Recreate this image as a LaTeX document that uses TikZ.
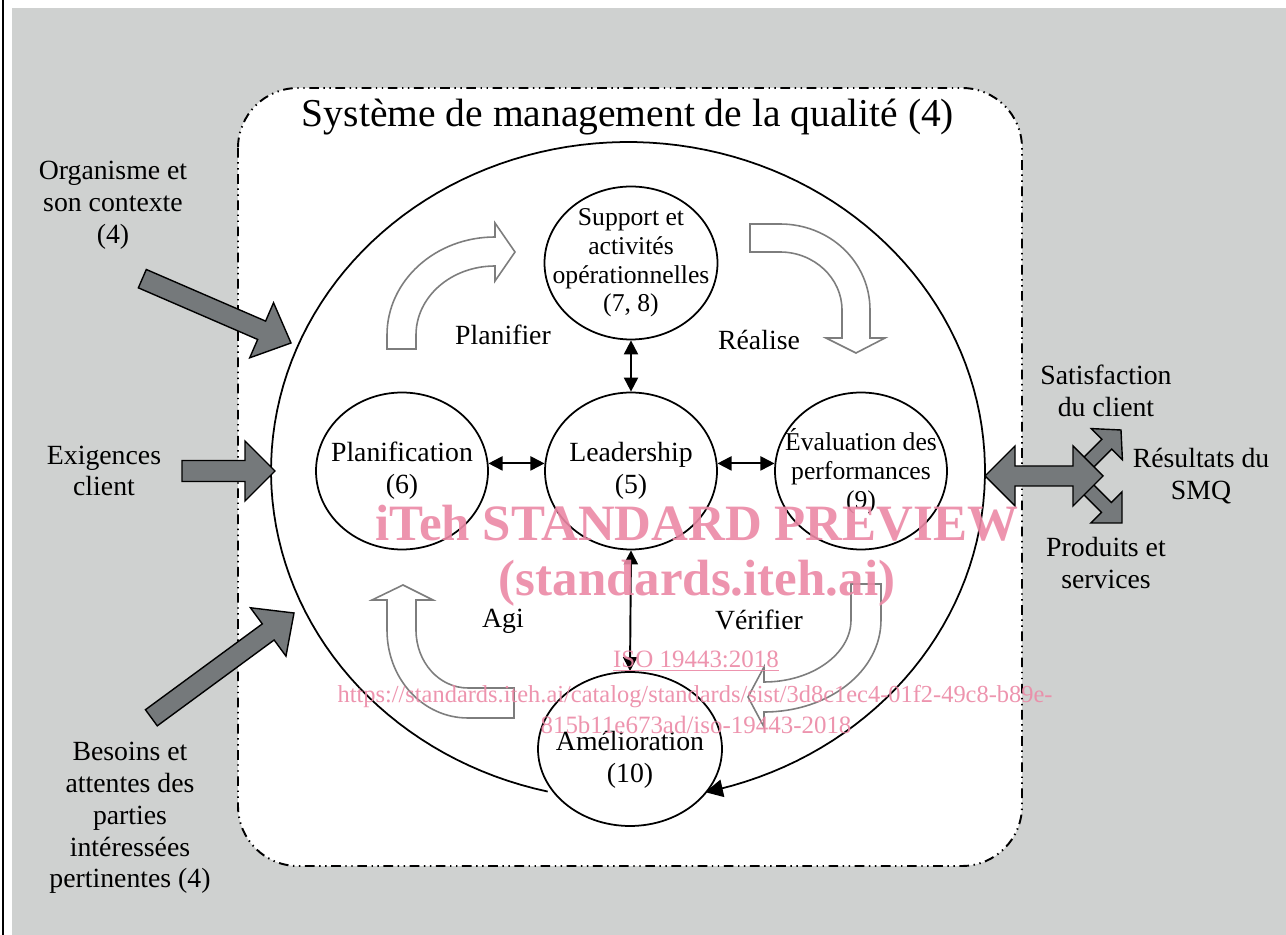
\documentclass[tikz,border=0pt]{standalone}
\usepackage{fontspec}
\setmainfont{Liberation Serif}
\usetikzlibrary{shapes.geometric,arrows.meta}

\definecolor{bggrey}{RGB}{207,209,208}
\definecolor{arrowgrey}{RGB}{117,121,123}
\definecolor{outlinegrey}{RGB}{125,125,125}
\definecolor{wmpink}{RGB}{236,137,166}

\begin{document}
\begin{tikzpicture}[
		x=0.02cm, y=-0.02cm,
		proc/.style={ellipse, draw, line width=1pt, inner sep=0pt},
		lbl/.style={align=center, font=\fontsize{15.8}{18.1}\selectfont},
		small/.style={align=center, font=\fontsize{14.6}{16.4}\selectfont},
		link/.style={line width=1.1pt, {Triangle[length=8pt,width=8pt]}-{Triangle[length=8pt,width=8pt]}},
		hollow/.style={draw=outlinegrey, fill=white, line width=0.9pt},
		grey arrow/.style={draw=black, fill=arrowgrey, line width=0.8pt},
		wm/.style={text=wmpink, text opacity=0.9, align=center},
		pics/fatarr/.style n args={4}{code={
			\draw[grey arrow] (-#1,-#2) -- (-#4,-#2) -- (-#4,-#3) -- (0,0) -- (-#4,#3) -- (-#4,#2) -- (-#1,#2) -- cycle;
		}}]

		\useasboundingbox (0,0) rectangle (1286,935);
		\fill[bggrey] (12,8) rectangle (1286,935);
		\draw[line width=0.6pt] (3,0) -- (3,935);
		\draw[fill=white, line width=1.1pt, rounded corners=1.2cm,
			dash pattern=on 5.5pt off 2.6pt on 0.8pt off 2.6pt on 0.8pt off 2.6pt] (238,88) rectangle (1022,866);

		\node[font=\fontsize{22.5}{26}\selectfont] (title) at (628,117) {Système de management de la qualité (4)};

		\draw[line width=1pt, -{Triangle[length=10pt,width=10pt]}]
			plot[domain=103:437.5, samples=150] ({628+357*cos(\x)},{471+329*sin(\x)});

		\draw[hollow] (387,349) -- (387,335) .. controls (387,281) and (435,237) .. (495,237) -- (495,223) -- (515,252)
			-- (495,281) -- (495,266) .. controls (451,266) and (416,297) .. (416,335) -- (416,349) -- cycle;
		\draw[hollow] (750,224) -- (780,224) .. controls (830,224) and (870,262) .. (870,310) -- (870,338) -- (885,338)
			-- (856,353) -- (826,338) -- (842,338) -- (842,310) .. controls (842,278) and (814,252) .. (780,252) -- (750,252) -- cycle;
		\draw[hollow] (851,584) -- (881,584) -- (881,620) .. controls (881,671) and (829,712) .. (764,712) -- (764,727)
			-- (748,697) -- (764,667) -- (764,682) .. controls (812,682) and (851,654) .. (851,620) -- cycle;
		\draw[hollow] (514,718) -- (468,718) .. controls (423,718) and (387,679) .. (387,630) -- (387,600) -- (372,600)
			-- (403,585) -- (433,600) -- (416,600) -- (416,630) .. controls (416,662) and (439,688) .. (468,688) -- (514,688) -- cycle;

		\node[proc, minimum width=3.46cm, minimum height=3.06cm,
			label={[small]center:{Support et\\activités\\opérationnelles\\(7, 8)}}] (s) at (631,263) {};
		\node[proc, minimum width=3.44cm, minimum height=3.14cm,
			label={[lbl]center:{Planification\\(6)}}] (p) at (402,471) {};
		\node[proc, minimum width=3.44cm, minimum height=3.14cm,
			label={[lbl]center:{Leadership\\(5)}}] (l) at (631,471) {};
		\node[proc, minimum width=3.44cm, minimum height=3.14cm,
			label={[small]center:{Évaluation des\\performances\\(9)}}] (e) at (861,471) {};
		\node[proc, minimum width=3.68cm, minimum height=3.08cm,
			label={[lbl, yshift=-6pt]center:{Amélioration\\(10)}}] (a) at (630,749) {};

		\draw[link] (s.south) -- (l.north);
		\draw[link] (p.5) -- (l.175);
		\draw[link] (l.5) -- (e.175);
		\draw[link] (l.south) -- (a.north);

		\node[lbl] (plf) at (503,335) {Planifier};
		\node[lbl] (rea) at (759,340) {Réalise};
		\node[lbl] (agi) at (503,621) {Agi};
		\node[lbl] (ver) at (759,620) {Vérifier};

		\node[lbl] (org) at (113,205) {Organisme et\\son contexte\\(4)};
		\node[lbl] (exi) at (104,471) {Exigences\\client};
		\node[lbl] (bes) at (130,818) {Besoins et\\attentes des\\parties\\intéressées\\pertinentes (4)};
		\node[lbl] (sat) at (1106,391) {Satisfaction\\du client};
		\node[lbl] (res) at (1201,476) {Résultats du\\SMQ};
		\node[lbl] (pro) at (1106,563) {Produits et\\services};

		\pic[rotate=-23.4] at (291,343) {fatarr={162}{10}{30}{32}};
		\pic at (275,471) {fatarr={93}{10.5}{30}{30}};
		\pic[rotate=36.3] at (294,613) {fatarr={177}{10}{30}{32}};
		\pic[rotate=45] at (1121,430) {fatarr={62}{7}{22}{20}};
		\pic[rotate=-45] at (1122,523) {fatarr={64}{7}{22}{22}};
		\draw[grey arrow] (985,476) -- (1015,446) -- (1015,466) -- (1073,466) -- (1073,446) -- (1103,476)
			-- (1073,506) -- (1073,486) -- (1015,486) -- (1015,506) -- cycle;

		\node[wm, font=\bfseries\fontsize{29}{32}\selectfont] (w1) at (697,523) {iTeh STANDARD PREVIEW};
		\node[wm, font=\bfseries\fontsize{29}{32}\selectfont] (w2) at (697,583) {(standards.iteh.ai)};
		\node[wm, font=\fontsize{14.2}{16}\selectfont] (w3) at (696,661) {\underline{ISO 19443:2018}};
		\node[wm, font=\fontsize{13.9}{16}\selectfont] (w4) at (695,697) {https://standards.iteh.ai/catalog/standards/sist/3d8c1ec4-01f2-49c8-b89e-};
		\node[wm, font=\fontsize{14.2}{16}\selectfont] (w5) at (696,725) {815b11e673ad/iso-19443-2018};

\end{tikzpicture}
\end{document}
